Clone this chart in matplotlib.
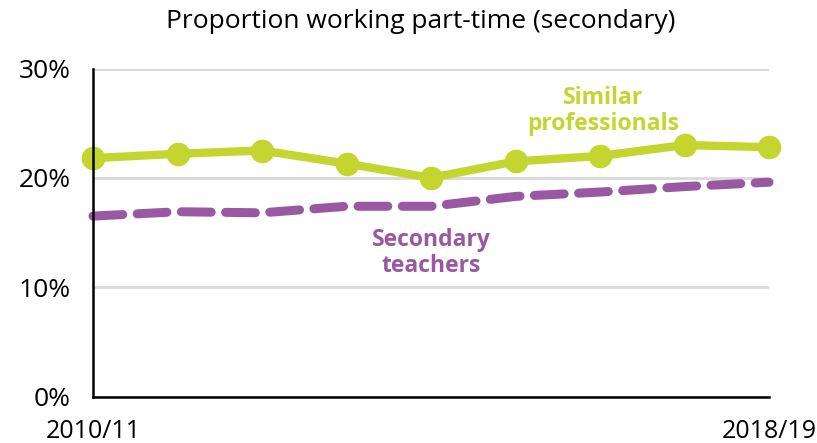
import matplotlib
matplotlib.use("Agg")
import matplotlib.pyplot as plt

years = ["2010/11", "2011/12", "2012/13", "2013/14", "2014/15",
         "2015/16", "2016/17", "2017/18", "2018/19"]
similar_prof = [21.8, 22.2, 22.5, 21.3, 20.0, 21.5, 22.0, 23.0, 22.8]
secondary_teachers = [16.5, 16.9, 16.8, 17.4, 17.4, 18.3, 18.7, 19.2, 19.6]
yticks = [0, 10, 20, 30]

GREEN = "#c4d52f"
PURPLE = "#9b58a2"
FONT = ["Open Sans", "DejaVu Sans"]

plt.rcParams["font.family"] = FONT

fig = plt.figure(figsize=(8.17, 4.43), dpi=100)
ax = fig.add_axes([93 / 817, 46.5 / 443, 676 / 817, 328 / 443])

x = list(range(len(years)))
ax.plot(x, secondary_teachers, color=PURPLE, lw=6.5, ls=(0, (3.3, 1.6)),
        solid_capstyle="round", dash_capstyle="round", clip_on=False, zorder=3)
ax.plot(x, similar_prof, color=GREEN, lw=6, marker="o", ms=16,
        clip_on=False, zorder=4)

ax.set_xlim(0, len(years) - 1)
ax.set_ylim(0, 30)
ax.set_yticks(yticks)
ax.set_yticklabels([f"{v}%" for v in yticks], fontsize=19)
ax.set_xticks([0, len(years) - 1])
ax.set_xticklabels([years[0], years[-1]], fontsize=18)
ax.tick_params(length=0)
ax.tick_params(axis="y", pad=16)
ax.tick_params(axis="x", pad=16)
ax.grid(axis="y", color="#d9d9d9", lw=2)
ax.set_axisbelow(True)
for s in ["top", "right"]:
    ax.spines[s].set_visible(False)
for s in ["left", "bottom"]:
    ax.spines[s].set_linewidth(1.8)
    ax.spines[s].set_color("black")
    ax.spines[s].set_zorder(5)

ax.text(6.04, 26.1, "Similar\nprofessionals", color=GREEN, fontsize=16.5,
        fontweight="bold", ha="center", va="center", linespacing=1.12)
ax.text(4.0, 13.1, "Secondary\nteachers", color=PURPLE, fontsize=16.5,
        fontweight="bold", ha="center", va="center", linespacing=1.12)

fig.text(421 / 817, 1 - 22 / 443, "Proportion working part-time (secondary)",
         fontsize=19, ha="center", va="center")

fig.savefig("out.png", dpi=100)
